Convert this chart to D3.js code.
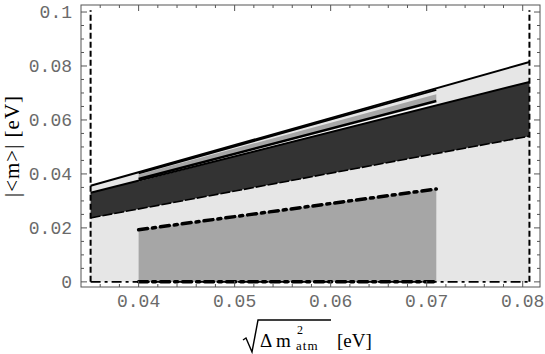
<!DOCTYPE html>
<html>
<head>
<meta charset="utf-8">
<script src="https://d3js.org/d3.v7.min.js"></script>
<style>
  body { margin: 0; background: #fff; }
</style>
</head>
<body>
<svg width="545" height="354"></svg>
<script>
// chart values
var xBounds = [0.035, 0.0807];          // dashed vertical limits
var topLine = [0.0356, 0.0815];         // upper solid line at xBounds
var darkTop = [0.033, 0.0741];          // dark band, upper edge
var darkBottom = [0.0237, 0.054];       // dark band, lower edge
var midBounds = [0.04, 0.071];          // medium grey region
var midTop = [0.0193, 0.0344];
var stripTop = [0.0398, 0.0695];        // thin grey strip inside midBounds
var stripBottom = [0.0381, 0.067];
var xTicks = [0.04, 0.05, 0.06, 0.07, 0.08];
var xTickLabels = ["0.04", "0.05", "0.06", "0.07", "0.08"];
var yTicks = [0, 0.02, 0.04, 0.06, 0.08, 0.1];
var yTickLabels = ["0", "0.02", "0.04", "0.06", "0.08", "0.1"];

var svg = d3.select("svg");

var x = d3.scaleLinear().domain([0.034, 0.0818]).range([81, 540]);
var y = d3.scaleLinear().domain([-0.0019, 0.1026]).range([287, 5]);

// value of a straight segment given its two end values over a span
function lerp(span, vals, v) {
  return vals[0] + (vals[1] - vals[0]) * (v - span[0]) / (span[1] - span[0]);
}

var area = d3.area().x(function(d) { return x(d[0]); })
  .y0(function(d) { return y(d[1]); })
  .y1(function(d) { return y(d[2]); });
var line = d3.line().x(function(d) { return x(d[0]); })
  .y(function(d) { return y(d[1]); });

// light grey everything below the top line
svg.append("path")
  .datum([[xBounds[0], 0, topLine[0]], [xBounds[1], 0, topLine[1]]])
  .attr("d", area)
  .attr("fill", "#e6e6e6");

// dark band
svg.append("path")
  .datum([[xBounds[0], darkBottom[0], darkTop[0]], [xBounds[1], darkBottom[1], darkTop[1]]])
  .attr("d", area)
  .attr("fill", "#333333");

// medium grey region
svg.append("path")
  .datum([[midBounds[0], 0, midTop[0]], [midBounds[1], 0, midTop[1]]])
  .attr("d", area)
  .attr("fill", "#a6a6a6");

// thin grey strip just under the top line
svg.append("path")
  .datum([[midBounds[0], stripBottom[0], stripTop[0]], [midBounds[1], stripBottom[1], stripTop[1]]])
  .attr("d", area)
  .attr("fill", "#a6a6a6");

// white hairline between strip and dark band
svg.append("path")
  .datum([[midBounds[0], stripBottom[0] - 0.0007], [midBounds[1], stripBottom[1] - 0.0009]])
  .attr("d", line)
  .attr("fill", "none")
  .attr("stroke", "#fff")
  .attr("stroke-width", 1.2);

svg.append("path")
  .datum([[midBounds[0], stripBottom[0]], [midBounds[1], stripBottom[1]]])
  .attr("d", line)
  .attr("fill", "none")
  .attr("stroke", "#000")
  .attr("stroke-width", 2.5);

svg.append("path")
  .datum([[midBounds[0], lerp(xBounds, topLine, midBounds[0]) - 0.0004], [midBounds[1], lerp(xBounds, topLine, midBounds[1]) - 0.0006]])
  .attr("d", line)
  .attr("fill", "none")
  .attr("stroke", "#000")
  .attr("stroke-width", 2);

// boundary lines
svg.append("path")
  .datum([[xBounds[0], topLine[0]], [xBounds[1], topLine[1]]])
  .attr("d", line)
  .attr("fill", "none")
  .attr("stroke", "#000")
  .attr("stroke-width", 2);

svg.append("path")
  .datum([[xBounds[0], darkTop[0]], [xBounds[1], darkTop[1]]])
  .attr("d", line)
  .attr("fill", "none")
  .attr("stroke", "#000")
  .attr("stroke-width", 2);

svg.append("path")
  .datum([[xBounds[0], darkBottom[0]], [xBounds[1], darkBottom[1]]])
  .attr("d", line)
  .attr("fill", "none")
  .attr("stroke", "#000")
  .attr("stroke-width", 1.6)
  .attr("stroke-dasharray", "10,2");

// dash-dot upper edge of the medium region
svg.append("path")
  .datum([[midBounds[0], midTop[0]], [midBounds[1], midTop[1]]])
  .attr("d", line)
  .attr("fill", "none")
  .attr("stroke", "#000")
  .attr("stroke-width", 3.5)
  .attr("stroke-linecap", "round")
  .attr("stroke-dasharray", "9,5,3,5");

// bottom lines at zero
svg.append("path")
  .datum([[xBounds[0], 0], [xBounds[1], 0]])
  .attr("d", line)
  .attr("fill", "none")
  .attr("stroke", "#000")
  .attr("stroke-width", 1.8)
  .attr("stroke-dasharray", "10,4,3,4");

svg.append("path")
  .datum([[midBounds[0], 0], [midBounds[1], 0]])
  .attr("d", line)
  .attr("fill", "none")
  .attr("stroke", "#000")
  .attr("stroke-width", 3.5)
  .attr("stroke-linecap", "round")
  .attr("stroke-dasharray", "9,5,3,5");

// dashed verticals
svg.selectAll("line.vlim")
  .data(xBounds)
  .enter().append("line")
    .attr("class", "vlim")
    .attr("x1", function(d) { return x(d); })
    .attr("x2", function(d) { return x(d); })
    .attr("y1", y(0))
    .attr("y2", y(0.1007))
    .attr("stroke", "#000")
    .attr("stroke-width", 2)
    .attr("stroke-dasharray", "6,3");

// frame
var x0 = x.range()[0], x1 = x.range()[1], yb = y.range()[0], yt = y.range()[1];
svg.append("rect")
  .attr("x", x0).attr("y", yt)
  .attr("width", x1 - x0).attr("height", yb - yt)
  .attr("fill", "none")
  .attr("stroke", "#555")
  .attr("stroke-width", 1);

// ticks on all four sides
var xMinor = d3.range(0.036, 0.0818, 0.002);
var yMinor = d3.range(0, 0.1026, 0.005);
var g = svg.append("g").attr("stroke", "#555").attr("stroke-width", 1);

xMinor.forEach(function(v) {
  var major = xTicks.some(function(t) { return Math.abs(t - v) < 1e-6; });
  var len = major ? 6 : 3;
  g.append("line").attr("x1", x(v)).attr("x2", x(v)).attr("y1", yb).attr("y2", yb - len);
  g.append("line").attr("x1", x(v)).attr("x2", x(v)).attr("y1", yt).attr("y2", yt + len);
});
yMinor.forEach(function(v) {
  var major = yTicks.some(function(t) { return Math.abs(t - v) < 1e-6; });
  var len = major ? 6 : 3;
  g.append("line").attr("y1", y(v)).attr("y2", y(v)).attr("x1", x0).attr("x2", x0 + len);
  g.append("line").attr("y1", y(v)).attr("y2", y(v)).attr("x1", x1).attr("x2", x1 - len);
});

// tick labels
svg.append("g")
  .selectAll("text")
  .data(xTicks)
  .enter().append("text")
    .attr("x", function(d) { return x(d); })
    .attr("y", 307)
    .attr("text-anchor", "middle")
    .attr("font-family", "Liberation Mono, monospace")
    .attr("font-size", 18)
    .attr("fill", "#6a6a6a")
    .text(function(d, i) { return xTickLabels[i]; });

svg.append("g")
  .selectAll("text")
  .data(yTicks)
  .enter().append("text")
    .attr("x", 72)
    .attr("y", function(d) { return y(d) + 6; })
    .attr("text-anchor", "end")
    .attr("font-family", "Liberation Mono, monospace")
    .attr("font-size", 18)
    .attr("fill", "#6a6a6a")
    .text(function(d, i) { return yTickLabels[i]; });

// axis titles
svg.append("text")
  .attr("transform", "translate(19,146) rotate(-90)")
  .attr("text-anchor", "middle")
  .attr("font-family", "Liberation Serif, serif")
  .attr("font-size", 21)
  .attr("letter-spacing", 1)
  .text("|<m>| [eV]");

var xt = svg.append("g").attr("font-family", "Liberation Serif, serif");
xt.append("path")
  .attr("d", "M243,340 L246,338 L252,352 L258,320 L331,320")
  .attr("fill", "none")
  .attr("stroke", "#000")
  .attr("stroke-width", 1.4);
xt.append("text").attr("x", 260).attr("y", 347).attr("font-size", 19).text("Δ m");
xt.append("text").attr("x", 297).attr("y", 334).attr("font-size", 12).text("2");
xt.append("text").attr("x", 296).attr("y", 350).attr("font-size", 13).attr("letter-spacing", 1).text("atm");
xt.append("text").attr("x", 337).attr("y", 347).attr("font-size", 19).text("[eV]");
</script>
</body>
</html>
